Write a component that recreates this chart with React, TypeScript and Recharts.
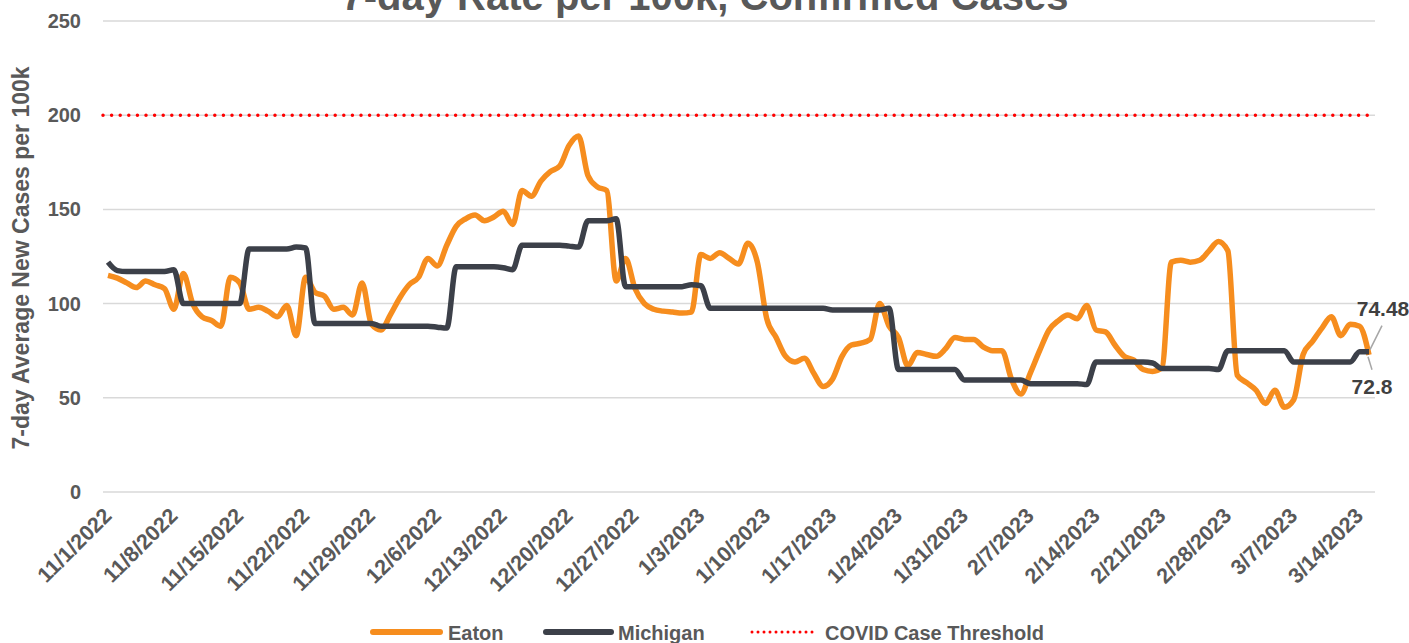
import React from 'react';
import {
  LineChart,
  Line,
  XAxis,
  YAxis,
  CartesianGrid,
  ReferenceLine,
  LabelList,
  Customized,
} from 'recharts';

const FONT = '"Liberation Sans", Arial, sans-serif';
const TEXT_GREY = '#595959';
const EATON_COLOR = '#F68D1E';
const MICHIGAN_COLOR = '#3C4049';
const THRESHOLD = 200;

// daily 7-day average per 100k, 11/1/2022 .. 3/15/2023
const EATON = [
  115, 113.5, 111, 108.5, 112, 110, 108, 97, 116, 100,
  93, 91, 88, 114, 111, 97, 98, 96, 93, 99,
  83, 114, 106, 104, 97, 98, 94, 111, 89, 86,
  94, 103, 110, 114, 124, 120, 131, 141, 145, 147,
  144, 146, 149, 142, 160, 157, 165, 170, 173, 184,
  189, 168, 162, 160, 112, 124, 108, 100, 97, 96,
  95.5, 95, 95.5, 126, 124, 127, 124, 121, 132, 122,
  92, 82, 72, 69, 71, 63, 56, 60, 72, 78,
  79, 81, 100, 88, 82, 67, 74, 73, 72, 76,
  82, 81, 81, 77, 75, 75, 60, 52, 63, 75,
  86, 91, 94, 92, 99, 86, 85, 78, 72, 70,
  65, 64, 66, 122, 123, 122, 123, 128, 133, 128,
  62, 58, 54, 47, 54, 45, 49, 73, 80, 87,
  93, 83, 89, 88, 72.8,
];

const MICHIGAN = [
  122, 117.5, 117, 117, 117, 117, 117, 118, 100, 100,
  100, 100, 100, 100, 100, 129, 129, 129, 129, 129,
  130, 129.5, 89.5, 89.5, 89.5, 89.5, 89.5, 89.5, 89.5, 88,
  88, 88, 88, 88, 88, 87.5, 87, 119.5, 119.5, 119.5,
  119.5, 119.5, 119, 118, 131, 131, 131, 131, 131, 130.5,
  130, 144, 144, 144, 145, 109, 109, 109, 109, 109,
  109, 109, 110, 109.5, 97.5, 97.5, 97.5, 97.5, 97.5, 97.5,
  97.5, 97.5, 97.5, 97.5, 97.5, 97.5, 97.5, 96.6, 96.6, 96.6,
  96.6, 96.6, 96.6, 97.5, 65, 65, 65, 65, 65, 65,
  65, 59.5, 59.5, 59.5, 59.5, 59.5, 59.5, 59.5, 57.5, 57.5,
  57.5, 57.5, 57.5, 57.5, 57, 69, 69, 69, 69, 69,
  69, 68.5, 65.5, 65.5, 65.5, 65.5, 65.5, 65.5, 65, 75,
  75, 75, 75, 75, 75, 75, 69, 69, 69, 69,
  69, 69, 69, 74.5, 74.48,
];

const X_TICKS = [
  '11/1/2022', '11/8/2022', '11/15/2022', '11/22/2022', '11/29/2022',
  '12/6/2022', '12/13/2022', '12/20/2022', '12/27/2022', '1/3/2023',
  '1/10/2023', '1/17/2023', '1/24/2023', '1/31/2023', '2/7/2023',
  '2/14/2023', '2/21/2023', '2/28/2023', '3/7/2023', '3/14/2023',
];

const Y_TICKS = [0, 50, 100, 150, 200, 250];

const buildDates = (n: number) => {
  const out: string[] = [];
  const d = new Date(2022, 10, 1);
  for (let i = 0; i < n; i++) {
    out.push(`${d.getMonth() + 1}/${d.getDate()}/${d.getFullYear()}`);
    d.setDate(d.getDate() + 1);
  }
  return out;
};

const DATES = buildDates(EATON.length);
const data = DATES.map((date, i) => ({ date, eaton: EATON[i], michigan: MICHIGAN[i] }));
const LAST = data.length - 1;

const XTick = ({ x, payload }: any) => {
  const tx = x + 5;
  const ty = 517;
  return (
    <text
      x={tx}
      y={ty}
      textAnchor="end"
      transform={`rotate(-45, ${tx}, ${ty})`}
      fill={TEXT_GREY}
      fontFamily={FONT}
      fontWeight="bold"
      fontSize={21.5}
    >
      {payload.value}
    </text>
  );
};

const YTick = ({ y, payload }: any) => (
  <text x={81} y={y + 7} textAnchor="end" fill={TEXT_GREY} fontFamily={FONT} fontWeight="bold" fontSize={20}>
    {payload.value}
  </text>
);

const michiganLabel = (props: any) => {
  const { x, y, index, value } = props;
  if (index !== LAST) return null;
  return (
    <g>
      <line x1={x + 13} y1={y - 26} x2={x + 1} y2={y - 2} stroke="#A6A6A6" strokeWidth={1.5} />
      <text x={x + 14} y={y - 36} textAnchor="middle" fill="#404040" fontFamily={FONT} fontWeight="bold" fontSize={21}>
        {value}
      </text>
    </g>
  );
};

const eatonLabel = (props: any) => {
  const { x, y, index, value } = props;
  if (index !== LAST) return null;
  return (
    <g>
      <line x1={x - 1} y1={y + 2} x2={x + 3} y2={y + 15} stroke="#A6A6A6" strokeWidth={1.5} />
      <text x={x + 3} y={y + 39} textAnchor="middle" fill="#404040" fontFamily={FONT} fontWeight="bold" fontSize={21}>
        {value}
      </text>
    </g>
  );
};

// title (cut at the top edge, as in the source), axis title and legend
const Overlay = () => (
  <g fontFamily={FONT} fontWeight="bold" fill={TEXT_GREY}>
    <text x={705} y={10} textAnchor="middle" fontSize={40}>
      7-day Rate per 100k, Confirmed Cases
    </text>
    <text x={29} y={258} textAnchor="middle" fontSize={23} transform="rotate(-90, 29, 258)">
      7-day Average New Cases per 100k
    </text>
    <line x1={373} y1={632} x2={440} y2={632} stroke={EATON_COLOR} strokeWidth={6} strokeLinecap="round" />
    <text x={448} y={640} fontSize={20}>Eaton</text>
    <line x1={546} y1={632} x2={611} y2={632} stroke={MICHIGAN_COLOR} strokeWidth={6} strokeLinecap="round" />
    <text x={618} y={640} fontSize={20}>Michigan</text>
    <line x1={752} y1={632} x2={818} y2={632} stroke="#FF0000" strokeWidth={3} strokeDasharray="0 6" strokeLinecap="round" />
    <text x={825} y={640} fontSize={20}>COVID Case Threshold</text>
  </g>
);

export default function App() {
  return (
    <div style={{ position: 'absolute', left: 0, top: 0, width: 1409, height: 643, background: '#fff' }}>
      <LineChart width={1409} height={643} data={data} margin={{ top: 21, right: 34, bottom: 30, left: 23 }}>
        <CartesianGrid vertical={false} stroke="#D9D9D9" strokeWidth={1.5} />
        <XAxis
          dataKey="date"
          ticks={X_TICKS}
          interval={0}
          height={121}
          axisLine={false}
          tickLine={false}
          padding={{ left: 5, right: 6 }}
          tick={<XTick />}
        />
        <YAxis
          domain={[0, 250]}
          ticks={Y_TICKS}
          width={80}
          axisLine={false}
          tickLine={false}
          tick={<YTick />}
        />
        <ReferenceLine
          y={THRESHOLD}
          stroke="#FF0000"
          strokeWidth={3.5}
          strokeDasharray="0 8.6"
          strokeLinecap="round"
        />
        <Line
          type="monotone"
          dataKey="eaton"
          name="Eaton"
          stroke={EATON_COLOR}
          strokeWidth={5.5}
          dot={false}
          isAnimationActive={false}
        >
          <LabelList dataKey="eaton" content={eatonLabel} />
        </Line>
        <Line
          type="monotone"
          dataKey="michigan"
          name="Michigan"
          stroke={MICHIGAN_COLOR}
          strokeWidth={5.5}
          dot={false}
          isAnimationActive={false}
        >
          <LabelList dataKey="michigan" content={michiganLabel} />
        </Line>
        <Customized component={Overlay} />
      </LineChart>
    </div>
  );
}
